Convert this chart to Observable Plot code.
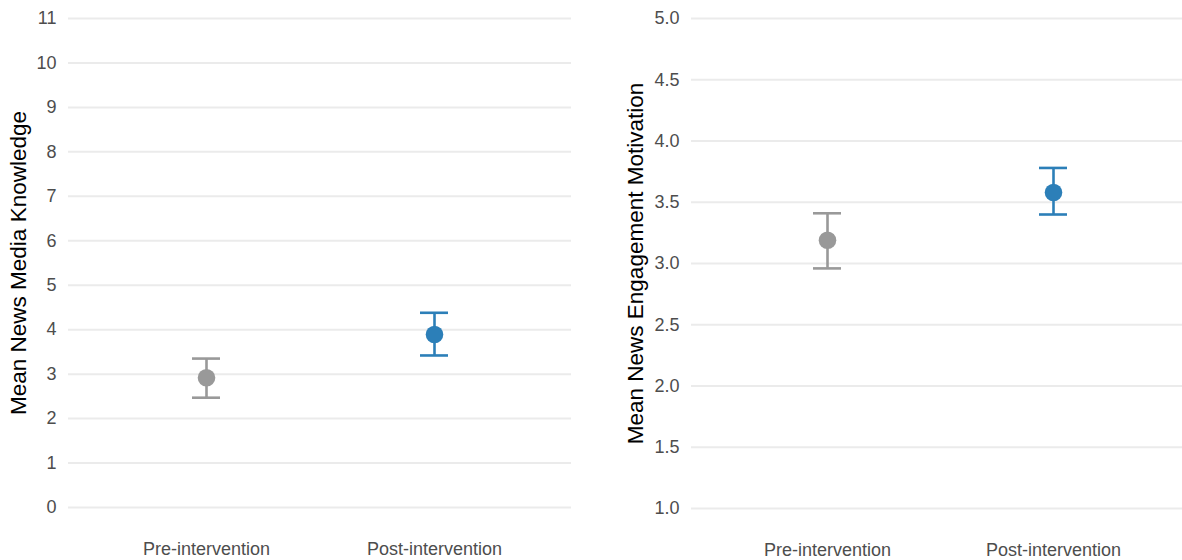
<!DOCTYPE html>
<html>
<head>
<meta charset="utf-8">
<script src="https://cdn.jsdelivr.net/npm/d3@7"></script>
<script src="https://cdn.jsdelivr.net/npm/@observablehq/plot@0.6"></script>
<style>
  html, body { margin: 0; padding: 0; background: #fff; overflow: hidden; }
  #wrap { display: flex; flex-direction: row; width: 1182px; height: 560px; }
  #wrap svg { display: block; }
</style>
</head>
<body>
<div id="wrap"></div>
<script>
const conditions = ["Pre-intervention", "Post-intervention"];
const colors = ["#999999", "#2c7fb8"];

const knowledgeMean = [2.92, 3.89];
const knowledgeLow  = [2.47, 3.42];
const knowledgeHigh = [3.35, 4.38];
const knowledgeTicks = [0, 1, 2, 3, 4, 5, 6, 7, 8, 9, 10, 11];

const motivationMean = [3.19, 3.58];
const motivationLow  = [2.96, 3.40];
const motivationHigh = [3.41, 3.78];
const motivationTicks = [1.0, 1.5, 2.0, 2.5, 3.0, 3.5, 4.0, 4.5, 5.0];

const font = "'Liberation Sans', Arial, Helvetica, sans-serif";

function makeRows(mean, low, high) {
  return conditions.map((c, i) => ({condition: c, mean: mean[i], low: low[i], high: high[i], color: colors[i]}));
}

function panel({rows, domain, ticks, fmt, label, width, marginLeft, marginRight, marginBottom, labelOffset, padding, align}) {
  return Plot.plot({
    width, height: 560,
    marginTop: 18, marginBottom, marginLeft, marginRight,
    style: {fontFamily: font, fontSize: "18px", background: "white", color: "#4d4d4d", overflow: "visible"},
    x: {type: "point", domain: conditions, padding, align},
    y: {domain, ticks},
    marks: [
      Plot.gridY(ticks, {stroke: "#ebebeb", strokeWidth: 2, strokeOpacity: 1}),
      Plot.axisX({tickSize: 0, tickPadding: 35, fill: "#4d4d4d", fontSize: 18, label: null}),
      Plot.axisY(ticks, {tickSize: 0, tickPadding: 12, tickFormat: fmt, fill: "#4d4d4d", fontSize: 18,
        label, labelAnchor: "center", labelArrow: "none", labelOffset}),
      Plot.ruleX(rows, {x: "condition", y1: "low", y2: "high", stroke: "color", strokeWidth: 2.6}),
      Plot.ruleY(rows, {x1: "condition", x2: "condition", y: "low", stroke: "color", strokeWidth: 2.6, insetLeft: -14, insetRight: -14}),
      Plot.ruleY(rows, {x1: "condition", x2: "condition", y: "high", stroke: "color", strokeWidth: 2.6, insetLeft: -14, insetRight: -14}),
      Plot.dot(rows, {x: "condition", y: "mean", fill: "color", r: 8.8, stroke: null})
    ]
  });
}

const left = panel({
  rows: makeRows(knowledgeMean, knowledgeLow, knowledgeHigh),
  domain: [0, 11], ticks: knowledgeTicks, fmt: d3.format("d"),
  label: "Mean News Media Knowledge",
  width: 591, marginLeft: 68, marginRight: 20, marginBottom: 53, labelOffset: 58,
  padding: 0.6, align: 0.5
});
const right = panel({
  rows: makeRows(motivationMean, motivationLow, motivationHigh),
  domain: [1, 5], ticks: motivationTicks, fmt: d3.format(".1f"),
  label: "Mean News Engagement Motivation",
  width: 591, marginLeft: 100, marginRight: 0, marginBottom: 52, labelOffset: 64,
  padding: 0.586, align: 0.513
});

// axis title styling: black, larger
for (const svg of [left, right]) {
  svg.querySelectorAll("[aria-label='y-axis label'] text, [aria-label='y-axis label']").forEach(el => {
    el.setAttribute("fill", "#000");
    el.setAttribute("font-size", "22.5px");
  });
}
document.getElementById("wrap").append(left, right);
</script>
</body>
</html>
